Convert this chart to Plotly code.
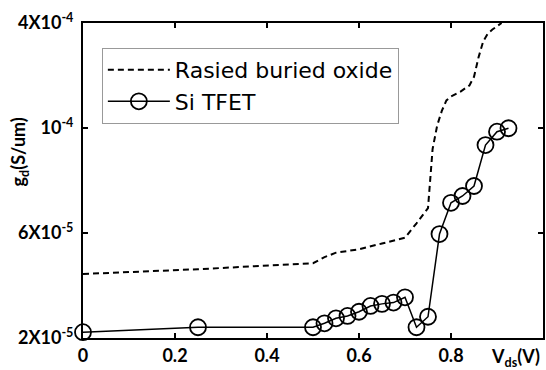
import plotly.graph_objects as go

# Data (g_d in S/um)
vds_si = [0, 0.25, 0.5, 0.525, 0.55, 0.575, 0.6, 0.625, 0.65, 0.675, 0.7,
          0.725, 0.75, 0.775, 0.8, 0.825, 0.85, 0.875, 0.9, 0.925]
gd_si = [2.22e-5, 2.41e-5, 2.41e-5, 2.56e-5, 2.75e-5, 2.84e-5, 3.0e-5, 3.22e-5,
         3.3e-5, 3.35e-5, 3.55e-5, 2.41e-5, 2.81e-5, 5.96e-5, 7.15e-5, 7.41e-5,
         7.79e-5, 9.35e-5, 9.86e-5, 9.99e-5]

vds_rbo = [0, 0.25, 0.5, 0.525, 0.55, 0.6, 0.65, 0.7, 0.725, 0.75, 0.76, 0.77,
           0.78, 0.79, 0.8, 0.82, 0.84, 0.85, 0.86, 0.87, 0.88, 0.89, 0.91]
gd_rbo = [4.44e-5, 4.62e-5, 4.85e-5, 5.08e-5, 5.25e-5, 5.38e-5, 5.6e-5, 5.82e-5,
          6.37e-5, 6.95e-5, 9.2e-5, 10.1e-5, 10.65e-5, 11.05e-5, 11.2e-5, 11.38e-5,
          11.62e-5, 11.95e-5, 12.7e-5, 13.3e-5, 13.6e-5, 13.75e-5, 14.0e-5]

x_tickvals = [0, 0.2, 0.4, 0.6, 0.8]
x_ticktext = ["0", "0.2", "0.4", "0.6", "0.8"]
y_tickvals = [2e-5, 6e-5, 1e-4, 1.4e-4]
y_ticktext = ["2X10<sup>-5</sup>", "6X10<sup>-5</sup>", "10<sup>-4</sup>", "4X10<sup>-4</sup>"]

fig = go.Figure()
fig.add_trace(go.Scatter(
    x=vds_rbo, y=gd_rbo, mode="lines", name="Rasied buried oxide",
    line=dict(color="black", width=2, dash="6px,4px"), cliponaxis=False))
fig.add_trace(go.Scatter(
    x=vds_si, y=gd_si, mode="lines+markers", name="Si TFET",
    line=dict(color="black", width=1.5),
    marker=dict(symbol="circle-open", size=16, color="black", line=dict(width=1.8)),
    cliponaxis=False))

tickfont = dict(family="Lato", size=18, color="black", weight="bold")
fig.update_layout(
    width=546, height=370,
    margin=dict(l=83, r=1, t=23, b=32),
    paper_bgcolor="white", plot_bgcolor="white",
    showlegend=True,
    legend=dict(x=0.041, y=0.921, xanchor="left", yanchor="top",
                bordercolor="#999999", borderwidth=1, bgcolor="white",
                font=dict(family="DejaVu Sans", size=22, color="black"),
                itemwidth=62, tracegroupgap=0),
    xaxis=dict(range=[0, 1.0], tickvals=x_tickvals, ticktext=x_ticktext,
               ticks="inside", ticklen=5, tickwidth=2, tickcolor="black",
               showline=True, linecolor="black", linewidth=2, mirror="ticks",
               showgrid=False, zeroline=False, tickfont=tickfont),
    yaxis=dict(range=[2e-5, 1.4e-4], tickvals=y_tickvals, ticktext=y_ticktext,
               ticks="inside", ticklen=5, tickwidth=2, tickcolor="black",
               showline=True, linecolor="black", linewidth=2, mirror="ticks",
               showgrid=False, zeroline=False, tickfont=tickfont,
               ticklabelstandoff=4),
    annotations=[
        dict(text="g<sub>d</sub>(S/um)", xref="paper", yref="paper",
             x=-0.1385, y=0.59, textangle=-90, showarrow=False,
             xanchor="center", yanchor="middle",
             font=dict(family="Lato", size=18, color="black", weight="bold")),
        dict(text="V<sub>ds</sub>(V)", xref="paper", yref="paper",
             x=0.998, y=-0.062, showarrow=False, xanchor="right", yanchor="middle",
             font=dict(family="Lato", size=18, color="black", weight="bold")),
    ],
)

fig.write_html("out.html", config={"displayModeBar": False},
               post_script="document.body.style.margin='0';")
